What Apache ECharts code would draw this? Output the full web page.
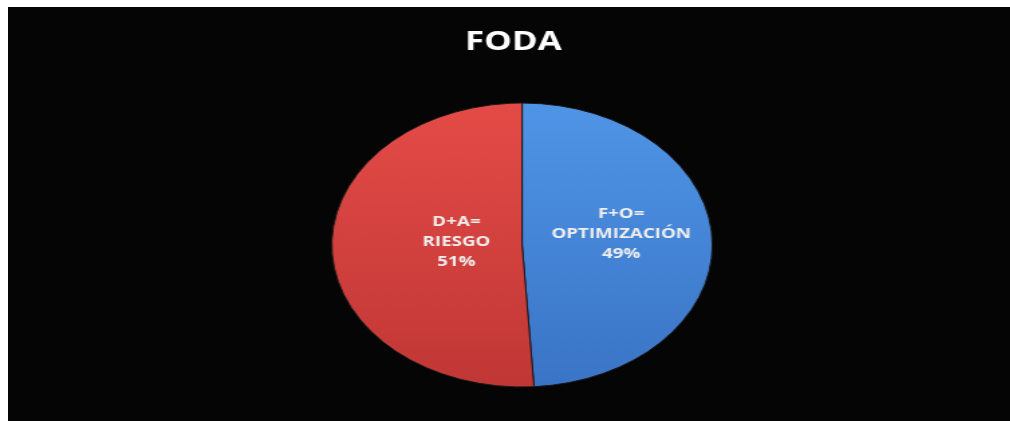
<!DOCTYPE html>
<html>
<head>
<meta charset="utf-8">
<script src="https://cdn.jsdelivr.net/npm/echarts@6/dist/echarts.min.js"></script>
<style>
  html, body { margin: 0; padding: 0; background: #ffffff; overflow: hidden; }
  #frame { position: fixed; left: 8px; top: 7px; width: 1200px; height: 600px; background: #050505; }
  /* the source picture is stretched sideways, so the chart is drawn narrow and widened */
  #chart { position: fixed; left: 0; top: 0; width: 753px; height: 421px;
           transform: scaleX(1.34); transform-origin: 0 0; }
</style>
</head>
<body>
<div id="frame"></div>
<div id="chart"></div>
<script>
var titulo = 'FODA';
var categorias = ['F+O=\nOPTIMIZACIÓN', 'D+A=\nRIESGO'];
var valores = [49, 51];

var colores = [
    { type: 'linear', x: 0, y: 0, x2: 0, y2: 1,
      colorStops: [{ offset: 0, color: '#4f95e6' }, { offset: 1, color: '#3a74c6' }] },
    { type: 'linear', x: 0, y: 0, x2: 0, y2: 1,
      colorStops: [{ offset: 0, color: '#e44b47' }, { offset: 1, color: '#c03735' }] }
];
var desplaz = [[0, -9], [25, -5]];

var datos = [];
for (var i = 0; i < categorias.length; i++) {
    datos.push({
        name: categorias[i],
        value: valores[i],
        itemStyle: { color: colores[i] },
        label: { offset: desplaz[i] }
    });
}

var myChart = echarts.init(document.getElementById('chart'));
var option = {
    animation: false,
    title: {
        text: titulo,
        left: 378,
        textAlign: 'center',
        top: 25,
        textStyle: { color: '#ffffff', fontFamily: 'Open Sans', fontWeight: 'bold', fontSize: 26 }
    },
    series: [{
        type: 'pie',
        center: [389.6, 245],
        radius: 142,
        startAngle: 90,
        clockwise: true,
        silent: true,
        itemStyle: { borderColor: '#1a1a1a', borderWidth: 1 },
        label: {
            show: true,
            position: 'inside',
            formatter: '{b}\n{d}%',
            color: '#eeeeee',
            fontFamily: 'Open Sans',
            fontWeight: 'bold',
            fontSize: 14,
            lineHeight: 20
        },
        labelLine: { show: false },
        data: datos
    }]
};
myChart.setOption(option);
</script>
</body>
</html>
